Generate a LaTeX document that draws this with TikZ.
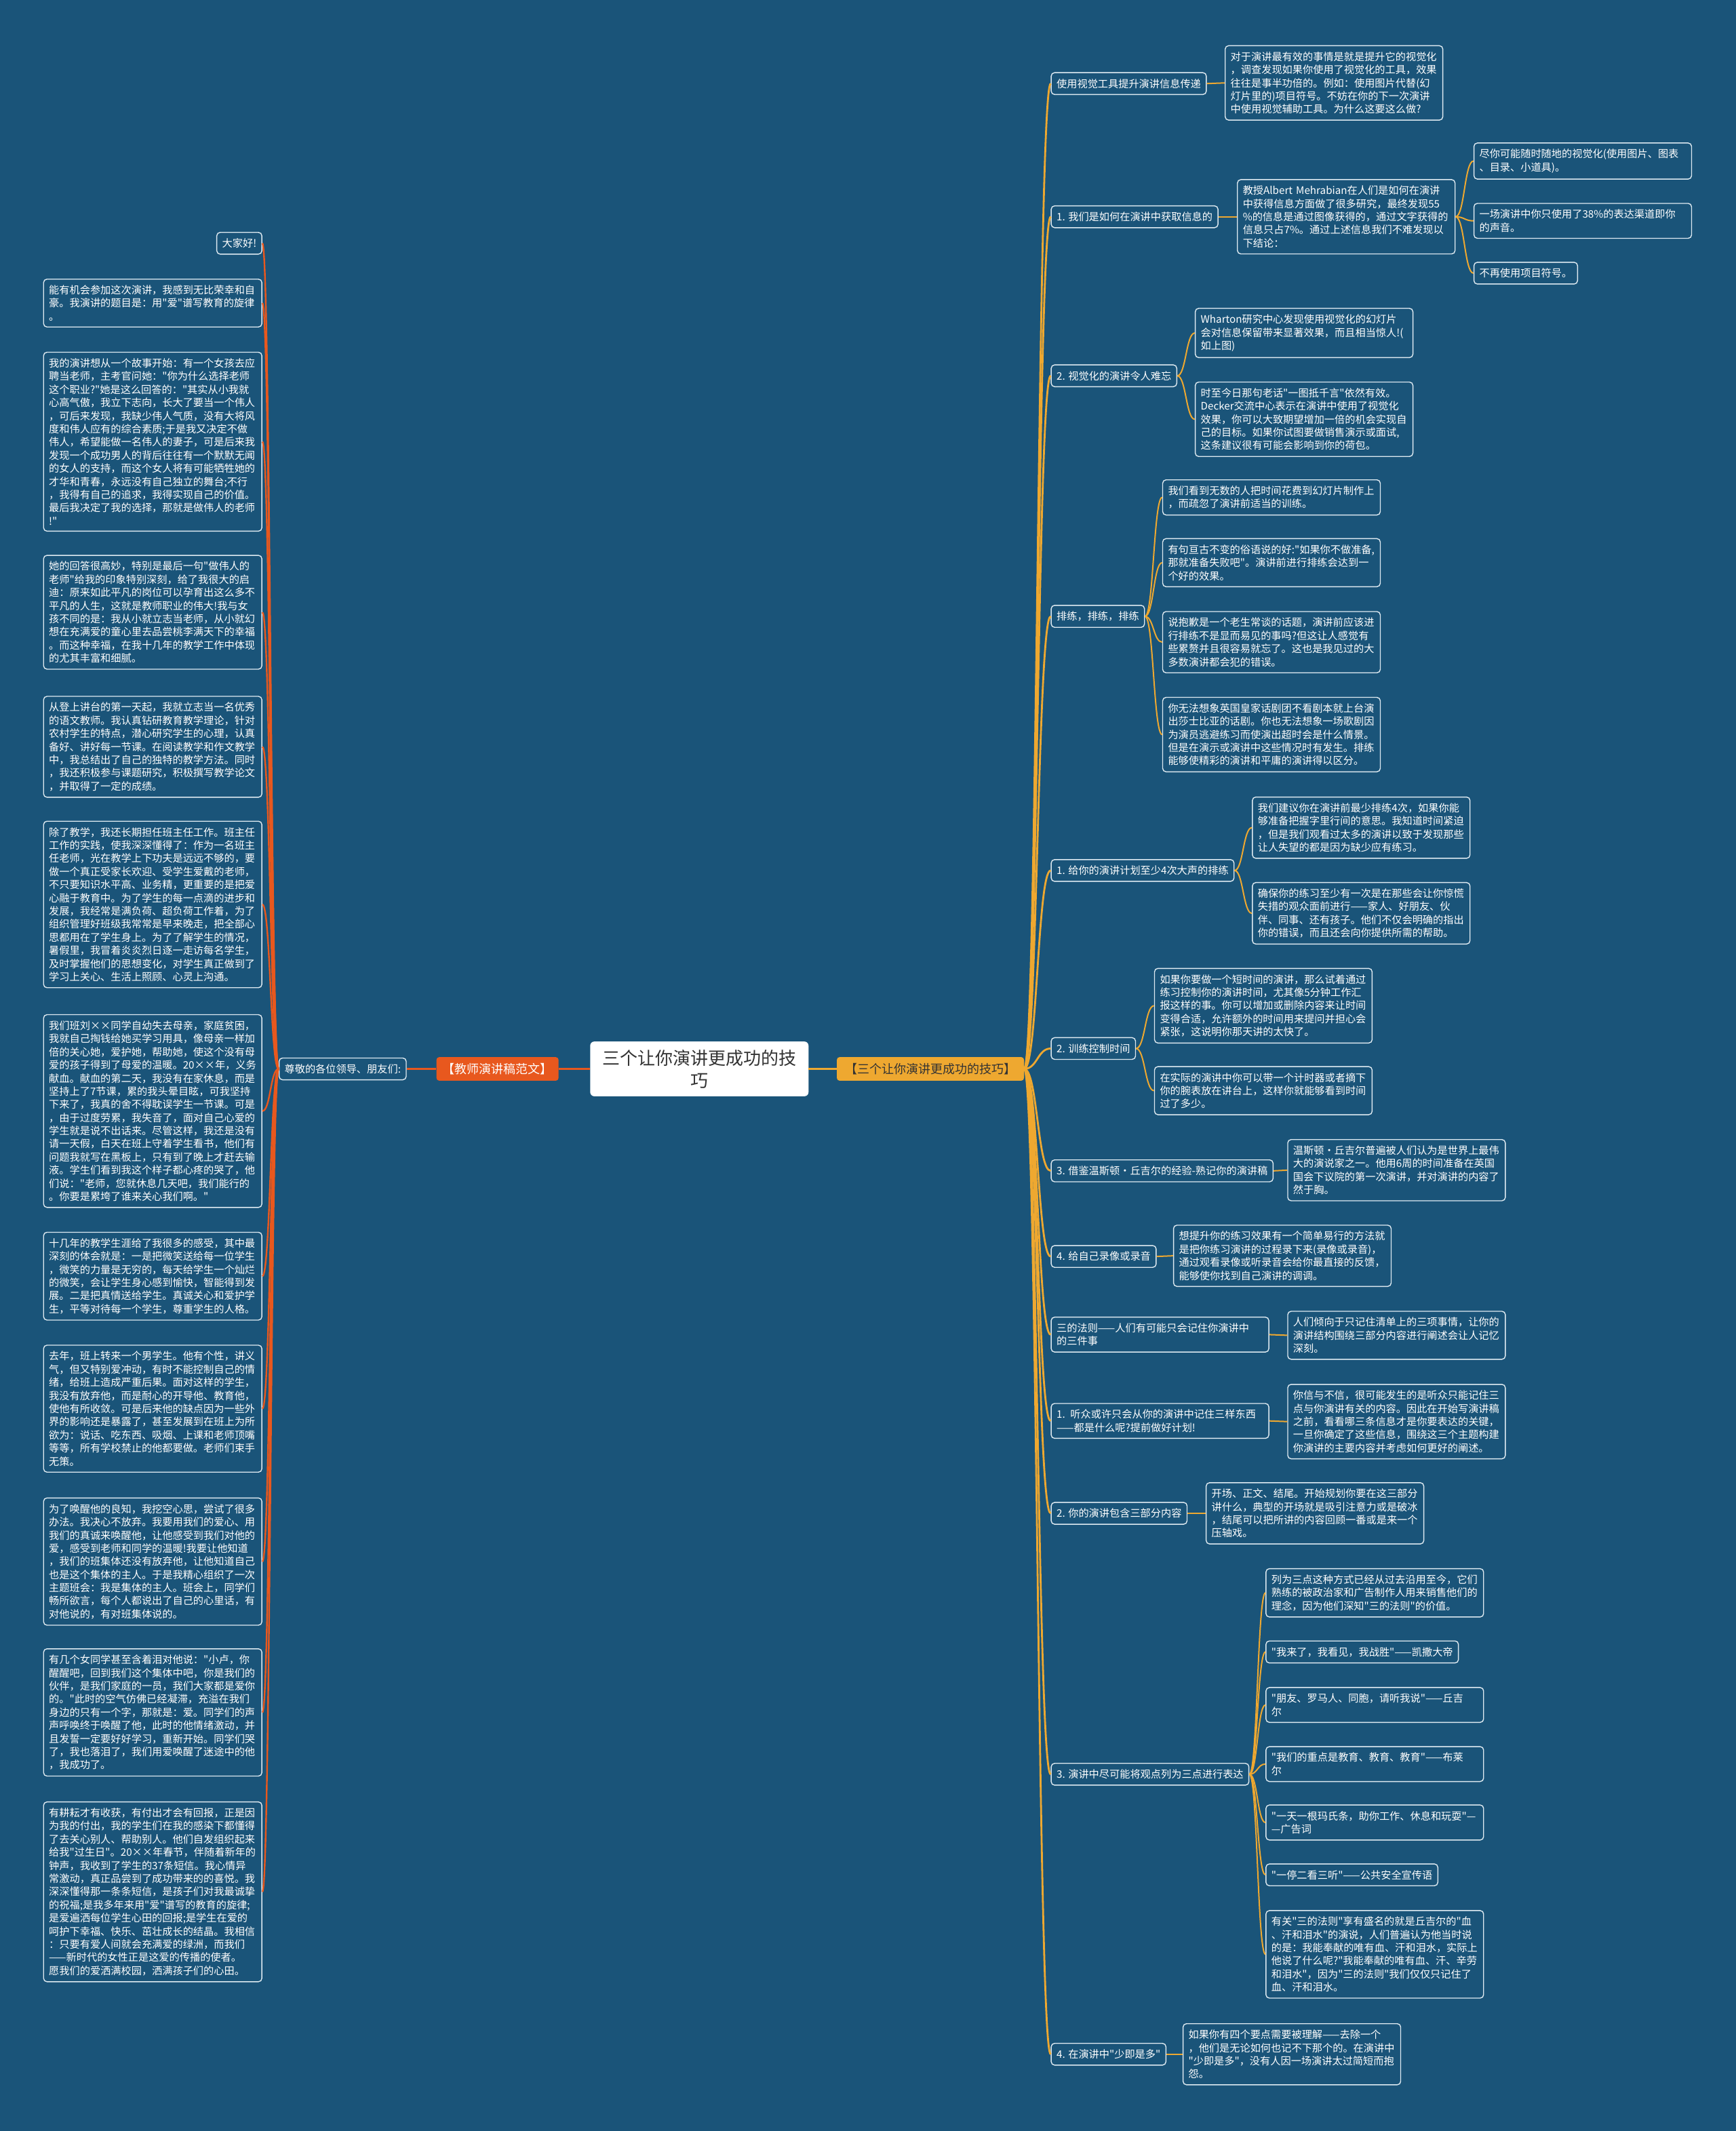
\documentclass[tikz,border=0pt]{standalone}
\usepackage{fontspec}
\setmainfont{Noto Sans CJK SC}[Ligatures=TeXOff]
\usetikzlibrary{calc}
\definecolor{bg}{RGB}{26,84,121}
\definecolor{boxline}{RGB}{222,234,241}
\definecolor{lorange}{RGB}{232,88,30}
\definecolor{ramber}{RGB}{238,168,48}
\definecolor{darktext}{RGB}{51,51,51}
\newcommand\fs{\fontsize{15.2pt}{19.4pt}\selectfont}
\newcommand\lk[3]{\draw[#1] let \p1=(#2), \p2=(#3), \p3=($(\p1)!0.5!(\p2)$) in (\p1) .. controls (\x3,\y1) and (\x3,\y2) .. (\p2);}
\tikzset{
  box/.style={draw=boxline, line width=1.4pt, rounded corners=5pt, fill=bg, text=white,
    font=\fs, inner xsep=8pt, inner ysep=9pt, align=left},
  lbox/.style={box, text width=306pt, anchor=east},
  rbox/.style={box, text width=305pt, anchor=west},
  nbox/.style={box, anchor=west},
  lline/.style={draw=lorange, line width=2.4pt},
  spine/.style={draw=ramber, line width=2.8pt},
  rline/.style={draw=ramber, line width=2pt}
}
\begin{document}
\begin{tikzpicture}[x=2.005pt,y=-2.005pt]
\useasboundingbox (0,0) rectangle (1277,1568);
\fill[bg] (0,0) rectangle (1277,1568);

% ---------- center and main nodes ----------
\node[fill=white, rounded corners=6pt, text=darktext, font=\fontsize{26pt}{33pt}\selectfont,
  align=center, inner xsep=18pt, inner ysep=12pt] (C) at (514.5,786.5) {三个让你演讲更成功的技\\巧};
\node[fill=lorange, rounded corners=4pt, text=white, font=\fontsize{18pt}{22pt}\selectfont,
  inner xsep=9pt, inner ysep=9pt] (LM) at (366,786.5) {【教师演讲稿范文】};
\node[fill=ramber, rounded corners=4pt, text=darktext, font=\fontsize{18pt}{22pt}\selectfont,
  inner xsep=12pt, inner ysep=9pt] (RM) at (684.5,786.5) {【三个让你演讲更成功的技巧】};
\node[nbox] (S) at (205,786.5) {尊敬的各位领导、朋友们:};

% ---------- left boxes ----------
\node[box, anchor=east] (L1) at (193,179) {大家好!};
\node[lbox] (L2) at (193,223) {能有机会参加这次演讲，我感到无比荣幸和自\\豪。我演讲的题目是：用"爱"谱写教育的旋律\\。};
\node[lbox] (L3) at (193,325) {我的演讲想从一个故事开始：有一个女孩去应\\聘当老师，主考官问她："你为什么选择老师\\这个职业?"她是这么回答的："其实从小我就\\心高气傲，我立下志向，长大了要当一个伟人\\，可后来发现，我缺少伟人气质，没有大将风\\度和伟人应有的综合素质;于是我又决定不做\\伟人，希望能做一名伟人的妻子，可是后来我\\发现一个成功男人的背后往往有一个默默无闻\\的女人的支持，而这个女人将有可能牺牲她的\\才华和青春，永远没有自己独立的舞台;不行\\，我得有自己的追求，我得实现自己的价值。\\最后我决定了我的选择，那就是做伟人的老师\\!"};
\node[lbox] (L4) at (193,450.5) {她的回答很高妙，特别是最后一句"做伟人的\\老师"给我的印象特别深刻，给了我很大的启\\迪：原来如此平凡的岗位可以孕育出这么多不\\平凡的人生，这就是教师职业的伟大!我与女\\孩不同的是：我从小就立志当老师，从小就幻\\想在充满爱的童心里去品尝桃李满天下的幸福\\。而这种幸福，在我十几年的教学工作中体现\\的尤其丰富和细腻。};
\node[lbox] (L5) at (193,549.5) {从登上讲台的第一天起，我就立志当一名优秀\\的语文教师。我认真钻研教育教学理论，针对\\农村学生的特点，潜心研究学生的心理，认真\\备好、讲好每一节课。在阅读教学和作文教学\\中，我总结出了自己的独特的教学方法。同时\\，我还积极参与课题研究，积极撰写教学论文\\，并取得了一定的成绩。};
\node[lbox] (L6) at (193,665.5) {除了教学，我还长期担任班主任工作。班主任\\工作的实践，使我深深懂得了：作为一名班主\\任老师，光在教学上下功夫是远远不够的，要\\做一个真正受家长欢迎、受学生爱戴的老师，\\不只要知识水平高、业务精，更重要的是把爱\\心融于教育中。为了学生的每一点滴的进步和\\发展，我经常是满负荷、超负荷工作着，为了\\组织管理好班级我常常是早来晚走，把全部心\\思都用在了学生身上。为了了解学生的情况，\\暑假里，我冒着炎炎烈日逐一走访每名学生，\\及时掌握他们的思想变化，对学生真正做到了\\学习上关心、生活上照顾、心灵上沟通。};
\node[lbox] (L7) at (193,817.5) {我们班刘××同学自幼失去母亲，家庭贫困，\\我就自己掏钱给她买学习用具，像母亲一样加\\倍的关心她，爱护她，帮助她，使这个没有母\\爱的孩子得到了母爱的温暖。20××年，义务\\献血。献血的第二天，我没有在家休息，而是\\坚持上了7节课，累的我头晕目眩，可我坚持\\下来了，我真的舍不得耽误学生一节课。可是\\，由于过度劳累，我失音了，面对自己心爱的\\学生就是说不出话来。尽管这样，我还是没有\\请一天假，白天在班上守着学生看书，他们有\\问题我就写在黑板上，只有到了晚上才赶去输\\液。学生们看到我这个样子都心疼的哭了，他\\们说："老师，您就休息几天吧，我们能行的\\。你要是累垮了谁来关心我们啊。"};
\node[lbox] (L8) at (193,939) {十几年的教学生涯给了我很多的感受，其中最\\深刻的体会就是：一是把微笑送给每一位学生\\，微笑的力量是无穷的，每天给学生一个灿烂\\的微笑，会让学生身心感到愉快，智能得到发\\展。二是把真情送给学生。真诚关心和爱护学\\生，平等对待每一个学生，尊重学生的人格。};
\node[lbox] (L9) at (193,1036.5) {去年，班上转来一个男学生。他有个性，讲义\\气，但又特别爱冲动，有时不能控制自己的情\\绪，给班上造成严重后果。面对这样的学生，\\我没有放弃他，而是耐心的开导他、教育他，\\使他有所收敛。可是后来他的缺点因为一些外\\界的影响还是暴露了，甚至发展到在班上为所\\欲为：说话、吃东西、吸烟、上课和老师顶嘴\\等等，所有学校禁止的他都要做。老师们束手\\无策。};
\node[lbox] (L10) at (193,1149) {为了唤醒他的良知，我挖空心思，尝试了很多\\办法。我决心不放弃。我要用我们的爱心、用\\我们的真诚来唤醒他，让他感受到我们对他的\\爱，感受到老师和同学的温暖!我要让他知道\\，我们的班集体还没有放弃他，让他知道自己\\也是这个集体的主人。于是我精心组织了一次\\主题班会：我是集体的主人。班会上，同学们\\畅所欲言，每个人都说出了自己的心里话，有\\对他说的，有对班集体说的。};
\node[lbox] (L11) at (193,1260) {有几个女同学甚至含着泪对他说："小卢，你\\醒醒吧，回到我们这个集体中吧，你是我们的\\伙伴，是我们家庭的一员，我们大家都是爱你\\的。"此时的空气仿佛已经凝滞，充溢在我们\\身边的只有一个字，那就是：爱。同学们的声\\声呼唤终于唤醒了他，此时的他情绪激动，并\\且发誓一定要好好学习，重新开始。同学们哭\\了，我也落泪了，我们用爱唤醒了迷途中的他\\，我成功了。};
\node[lbox] (L12) at (193,1392) {有耕耘才有收获，有付出才会有回报，正是因\\为我的付出，我的学生们在我的感染下都懂得\\了去关心别人、帮助别人。他们自发组织起来\\给我"过生日"。20××年春节，伴随着新年的\\钟声，我收到了学生的37条短信。我心情异\\常激动，真正品尝到了成功带来的的喜悦。我\\深深懂得那一条条短信，是孩子们对我最诚挚\\的祝福;是我多年来用"爱"谱写的教育的旋律;\\是爱遍洒每位学生心田的回报;是学生在爱的\\呵护下幸福、快乐、茁壮成长的结晶。我相信\\：只要有爱人间就会充满爱的绿洲，而我们\\——新时代的女性正是这爱的传播的使者。\\愿我们的爱洒满校园，洒满孩子们的心田。};

% ---------- right level 1 ----------
\node[nbox] (R1) at (773,61.5) {使用视觉工具提升演讲信息传递};
\node[nbox] (R2) at (773,159.5) {1. 我们是如何在演讲中获取信息的};
\node[nbox] (R3) at (773,276.5) {2. 视觉化的演讲令人难忘};
\node[nbox] (R4) at (773,453.5) {排练，排练，排练};
\node[nbox] (R5) at (773,640.5) {1. 给你的演讲计划至少4次大声的排练};
\node[nbox] (R6) at (773,771.5) {2. 训练控制时间};
\node[nbox] (R7) at (773,861.5) {3. 借鉴温斯顿·丘吉尔的经验-熟记你的演讲稿};
\node[nbox] (R8) at (773,924.5) {4. 给自己录像或录音};
\node[rbox] (R9) at (773,982) {三的法则——人们有可能只会记住你演讲中\\的三件事};
\node[rbox] (R10) at (773,1045.5) {\mbox{1. 听众或许只会从你的演讲中记住三样东西}\\——都是什么呢?提前做好计划!};
\node[nbox] (R11) at (773,1113.5) {2. 你的演讲包含三部分内容};
\node[nbox] (R12) at (773,1305.5) {3. 演讲中尽可能将观点列为三点进行表达};
\node[nbox] (R13) at (773,1511.5) {4. 在演讲中"少即是多"};

% ---------- right children ----------
\node[rbox] (R1a) at (901,61) {对于演讲最有效的事情是就是提升它的视觉化\\，调查发现如果你使用了视觉化的工具，效果\\往往是事半功倍的。例如：使用图片代替(幻\\灯片里的)项目符号。不妨在你的下一次演讲\\中使用视觉辅助工具。为什么这要这么做?};
\node[rbox] (R2a) at (910,159.5) {\mbox{教授Albert Mehrabian在人们是如何在演讲}\\中获得信息方面做了很多研究，最终发现55\\\%的信息是通过图像获得的，通过文字获得的\\信息只占7\%。通过上述信息我们不难发现以\\下结论：};
\node[rbox] (G1) at (1084,118.5) {尽你可能随时随地的视觉化(使用图片、图表\\、目录、小道具)。};
\node[rbox] (G2) at (1084,162.5) {一场演讲中你只使用了38\%的表达渠道即你\\的声音。};
\node[nbox] (G3) at (1084,201) {不再使用项目符号。};

\node[rbox] (R3a) at (879,245) {Wharton研究中心发现使用视觉化的幻灯片\\会对信息保留带来显著效果，而且相当惊人!(\\如上图)};
\node[rbox] (R3b) at (879,308.5) {时至今日那句老话"一图抵千言"依然有效。\\Decker交流中心表示在演讲中使用了视觉化\\效果，你可以大致期望增加一倍的机会实现自\\己的目标。如果你试图要做销售演示或面试,\\这条建议很有可能会影响到你的荷包。};

\node[rbox] (R4a) at (855,366) {我们看到无数的人把时间花费到幻灯片制作上\\，而疏忽了演讲前适当的训练。};
\node[rbox] (R4b) at (855,414) {有句亘古不变的俗语说的好:"如果你不做准备,\\那就准备失败吧"。演讲前进行排练会达到一\\个好的效果。};
\node[rbox] (R4c) at (855,472.5) {说抱歉是一个老生常谈的话题，演讲前应该进\\行排练不是显而易见的事吗?但这让人感觉有\\些累赘并且很容易就忘了。这也是我见过的大\\多数演讲都会犯的错误。};
\node[rbox] (R4d) at (855,540.5) {你无法想象英国皇家话剧团不看剧本就上台演\\出莎士比亚的话剧。你也无法想象一场歌剧因\\为演员逃避练习而使演出超时会是什么情景。\\但是在演示或演讲中这些情况时有发生。排练\\能够使精彩的演讲和平庸的演讲得以区分。};

\node[rbox] (R5a) at (921,609) {我们建议你在演讲前最少排练4次，如果你能\\够准备把握字里行间的意思。我知道时间紧迫\\，但是我们观看过太多的演讲以致于发现那些\\让人失望的都是因为缺少应有练习。};
\node[rbox] (R5b) at (921,672) {确保你的练习至少有一次是在那些会让你惊慌\\失措的观众面前进行——家人、好朋友、伙\\伴、同事、还有孩子。他们不仅会明确的指出\\你的错误，而且还会向你提供所需的帮助。};

\node[rbox] (R6a) at (849,740) {如果你要做一个短时间的演讲，那么试着通过\\练习控制你的演讲时间，尤其像5分钟工作汇\\报这样的事。你可以增加或删除内容来让时间\\变得合适，允许额外的时间用来提问并担心会\\紧张，这说明你那天讲的太快了。};
\node[rbox] (R6b) at (849,802.5) {在实际的演讲中你可以带一个计时器或者摘下\\你的腕表放在讲台上，这样你就能够看到时间\\过了多少。};

\node[rbox] (R7a) at (947,861) {温斯顿·丘吉尔普遍被人们认为是世界上最伟\\大的演说家之一。他用6周的时间准备在英国\\国会下议院的第一次演讲，并对演讲的内容了\\然于胸。};
\node[rbox] (R8a) at (863,924) {想提升你的练习效果有一个简单易行的方法就\\是把你练习演讲的过程录下来(录像或录音)，\\通过观看录像或听录音会给你最直接的反馈，\\能够使你找到自己演讲的调调。};
\node[rbox] (R9a) at (947,982.5) {人们倾向于只记住清单上的三项事情，让你的\\演讲结构围绕三部分内容进行阐述会让人记忆\\深刻。};
\node[rbox] (R10a) at (947,1046) {你信与不信，很可能发生的是听众只能记住三\\点与你演讲有关的内容。因此在开始写演讲稿\\之前，看看哪三条信息才是你要表达的关键，\\一旦你确定了这些信息，围绕这三个主题构建\\你演讲的主要内容并考虑如何更好的阐述。};
\node[rbox] (R11a) at (887,1113.5) {开场、正文、结尾。开始规划你要在这三部分\\讲什么，典型的开场就是吸引注意力或是破冰\\，结尾可以把所讲的内容回顾一番或是来一个\\压轴戏。};

\node[rbox] (R12a) at (931,1172) {列为三点这种方式已经从过去沿用至今，它们\\熟练的被政治家和广告制作人用来销售他们的\\理念，因为他们深知"三的法则"的价值。};
\node[nbox] (R12b) at (931,1215.5) {"我来了，我看见，我战胜"——凯撒大帝};
\node[rbox] (R12c) at (931,1254.5) {"朋友、罗马人、同胞，请听我说"——丘吉\\尔};
\node[rbox] (R12d) at (931,1298) {"我们的重点是教育、教育、教育"——布莱\\尔};
\node[rbox] (R12e) at (931,1341) {"一天一根玛氏条，助你工作、休息和玩耍"—\\—广告词};
\node[nbox] (R12f) at (931,1379.5) {"一停二看三听"——公共安全宣传语};
\node[rbox] (R12g) at (931,1438) {有关"三的法则"享有盛名的就是丘吉尔的"血\\、汗和泪水"的演说，人们普遍认为他当时说\\的是：我能奉献的唯有血、汗和泪水，实际上\\他说了什么呢?"我能奉献的唯有血、汗、辛劳\\和泪水"，因为"三的法则"我们仅仅只记住了\\血、汗和泪水。};

\node[rbox] (R13a) at (870,1511.5) {如果你有四个要点需要被理解——去除一个\\，他们是无论如何也记不下那个的。在演讲中\\"少即是多"，没有人因一场演讲太过简短而抱\\怨。};

% ---------- connectors: left ----------
\lk{lline}{C.west}{LM.east}
\lk{lline}{LM.west}{S.east}
\foreach \k in {1,...,12}{\lk{lline}{S.west}{L\k.east}}
% ---------- connectors: right ----------
\lk{spine}{C.east}{RM.west}
\foreach \k in {1,...,13}{\lk{spine}{RM.east}{R\k.west}}
\lk{rline}{R1.east}{R1a.west}
\lk{rline}{R2.east}{R2a.west}
\foreach \g in {G1,G2,G3}{\lk{rline}{R2a.east}{\g.west}}
\foreach \c in {R3a,R3b}{\lk{rline}{R3.east}{\c.west}}
\foreach \c in {R4a,R4b,R4c,R4d}{\lk{rline}{R4.east}{\c.west}}
\foreach \c in {R5a,R5b}{\lk{rline}{R5.east}{\c.west}}
\foreach \c in {R6a,R6b}{\lk{rline}{R6.east}{\c.west}}
\lk{rline}{R7.east}{R7a.west}
\lk{rline}{R8.east}{R8a.west}
\lk{rline}{R9.east}{R9a.west}
\lk{rline}{R10.east}{R10a.west}
\lk{rline}{R11.east}{R11a.west}
\foreach \c in {R12a,R12b,R12c,R12d,R12e,R12f,R12g}{\lk{rline}{R12.east}{\c.west}}
\lk{rline}{R13.east}{R13a.west}
\end{tikzpicture}
\end{document}
